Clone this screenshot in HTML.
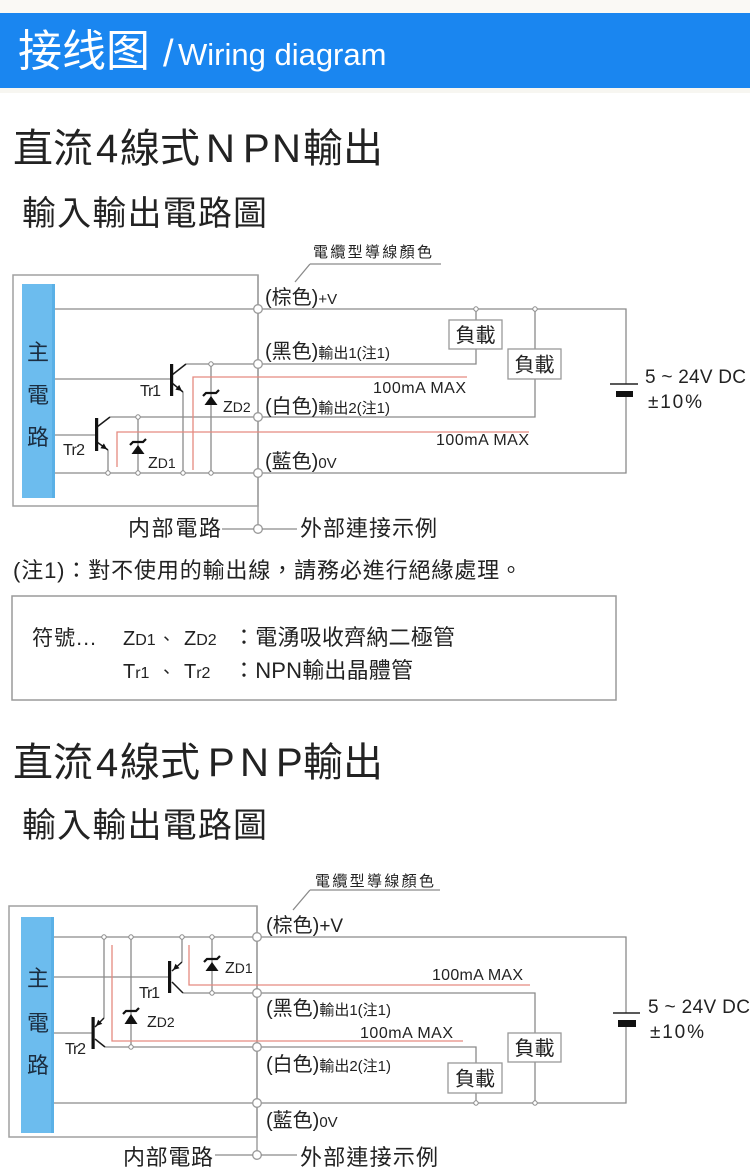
<!DOCTYPE html>
<html><head><meta charset="utf-8"><style>
html,body{margin:0;padding:0;background:#fff;}
body{width:750px;height:1171px;overflow:hidden;}
svg{display:block;}
text{font-family:"Liberation Sans","Noto Sans CJK TC",sans-serif;fill:#222;}
.w{fill:none;stroke:#8a8a8a;stroke-width:1.3;}
.bx{fill:none;stroke:#a0a0a0;stroke-width:1.5;}
.d{fill:none;stroke:#1a1a1a;stroke-width:1.5;}
.r{fill:none;stroke:#e58a80;stroke-width:1.3;}
.dot{fill:#fff;stroke:#8a8a8a;stroke-width:1;}
.big{fill:#fff;stroke:#999;stroke-width:1.3;}
.zb{fill:none;stroke:#111;stroke-width:2.2;}
.lb{fill:#fff;stroke:#999;stroke-width:1.3;}
</style></head><body>
<svg width="750" height="1171" viewBox="0 0 750 1171" xmlns="http://www.w3.org/2000/svg">
<rect x="0" y="0" width="750" height="13" fill="#faf9f5"/>
<rect x="0" y="13" width="750" height="75" fill="#1a86f0"/>
<rect x="0" y="88" width="750" height="5" fill="#f7f6f1"/>
<text x="18" y="66" font-size="44" style="fill:#fff;font-family:'Noto Sans CJK SC',sans-serif">接线图</text>
<text x="163" y="66" font-size="38" style="fill:#fff">/</text>
<text x="178" y="65" font-size="31" style="fill:#fff">Wiring diagram</text>

<!-- NPN heading -->
<text y="162" font-size="40"><tspan x="13">直流</tspan><tspan x="96">4</tspan><tspan x="120">線式</tspan><tspan x="206">N</tspan><tspan x="243">P</tspan><tspan x="272">N</tspan><tspan x="303">輸出</tspan></text>
<text x="22" y="225" font-size="34" textLength="245">輸入輸出電路圖</text>

<!-- NPN diagram -->
<rect class="bx" x="13" y="275" width="245" height="231"/>
<path class="bx" d="M258 275 V525"/>
<rect x="22" y="284" width="33" height="214" fill="#6cbcee"/>
<rect x="52" y="284" width="3" height="214" fill="#5ab0e6"/>
<text x="38" y="360" font-size="22" text-anchor="middle" style="fill:#1b2d40">主</text>
<text x="38" y="403" font-size="22" text-anchor="middle" style="fill:#1b2d40">電</text>
<text x="38" y="445" font-size="22" text-anchor="middle" style="fill:#1b2d40">路</text>

<path class="w" d="M55 309 H254 M262 309 H626 V384 M626 397 V473 H262 M254 473 H55"/>
<path class="w" d="M55 379 H171 M55 435 H96"/>
<path class="w" d="M186 364 H254 M262 364 H476 V349 M476 309 V320"/>
<path class="w" d="M110 417 H254 M262 417 H535 V379 M535 309 V349"/>
<path class="w" d="M183 392 V473 M108 450 V473 M211 364 V473 M138 417 V473"/>
<path class="d" d="M172 375 L186 364 M172 383 L183 392 M97 427 L110 417 M97 442 L108 450"/>
<rect x="170" y="364" width="3.2" height="32" fill="#111"/>
<rect x="95" y="418" width="3.2" height="33" fill="#111"/>
<polygon points="182,391 175.4,389.6 179.2,384.9" fill="#111"/>
<polygon points="107,449.3 100.4,448.2 103.9,443.4" fill="#111"/>
<path class="zb" d="M203 396 L206 393 H216 L219 390"/>
<polygon points="211,396 204.5,405 217.5,405" fill="#111"/>
<path class="zb" d="M130 445 L133 442 H143 L146 439"/>
<polygon points="138,445 131.5,454 144.5,454" fill="#111"/>
<path class="r" d="M193 470 V377 H467 M117 467 V432 H529"/>
<circle class="dot" cx="183" cy="473" r="2.2"/><circle class="dot" cx="211" cy="473" r="2.2"/>
<circle class="dot" cx="211" cy="364" r="2.2"/><circle class="dot" cx="108" cy="473" r="2.2"/>
<circle class="dot" cx="138" cy="473" r="2.2"/><circle class="dot" cx="138" cy="417" r="2.2"/>
<circle class="dot" cx="476" cy="309" r="2.2"/><circle class="dot" cx="535" cy="309" r="2.2"/>
<circle class="big" cx="258" cy="309" r="4.3"/><circle class="big" cx="258" cy="364" r="4.3"/>
<circle class="big" cx="258" cy="417" r="4.3"/><circle class="big" cx="258" cy="473" r="4.3"/>
<circle class="big" cx="258" cy="529" r="4.3"/>
<text x="140" y="396" font-size="16" textLength="21">Tr1</text>
<text x="63" y="455" font-size="16" textLength="22">Tr2</text>
<text x="223" y="412" font-size="16">Z<tspan font-size="14">D2</tspan></text>
<text x="148" y="468" font-size="16">Z<tspan font-size="14">D1</tspan></text>
<text x="373" y="393" font-size="16" textLength="93">100mA MAX</text>
<text x="436" y="445" font-size="16" textLength="93">100mA MAX</text>
<rect class="lb" x="449" y="320" width="53" height="29"/>
<text x="475.5" y="342" font-size="20" text-anchor="middle">負載</text>
<rect class="lb" x="508" y="349" width="53" height="30"/>
<text x="534.5" y="371.5" font-size="20" text-anchor="middle">負載</text>
<path d="M610 384 H638" stroke="#222" stroke-width="1.6"/>
<rect x="616" y="391" width="17" height="6" fill="#111"/>
<text x="645" y="383" font-size="19" textLength="101">5 ~ 24V DC</text>
<text x="648" y="408" font-size="19" textLength="54">±10%</text>
<text x="313" y="257" font-size="15" textLength="119">電纜型導線顏色</text>
<path class="w" d="M310 264 H441 M310 264 L295 282"/>
<text x="265" y="304" font-size="20">(棕色)<tspan font-size="15">+V</tspan></text>
<text x="265" y="358" font-size="20">(黑色)<tspan font-size="15">輸出1(注1)</tspan></text>
<text x="265" y="413" font-size="20">(白色)<tspan font-size="15">輸出2(注1)</tspan></text>
<text x="265" y="468" font-size="20">(藍色)<tspan font-size="15">0V</tspan></text>
<text x="128" y="536" font-size="22" textLength="93">内部電路</text>
<path class="w" d="M222 529 H254 M262 529 H297"/>
<text x="300" y="536" font-size="22" textLength="137">外部連接示例</text>

<text x="13" y="578" font-size="22" textLength="509">(注1)：對不使用的輸出線，請務必進行絕緣處理。</text>
<rect x="12" y="596" width="604" height="104" fill="none" stroke="#9a9a9a" stroke-width="1.5"/>
<text x="32" y="645" font-size="21" textLength="64">符號...</text>
<text x="123" y="645" font-size="20">Z<tspan font-size="16">D1</tspan></text>
<text x="158" y="645" font-size="17">、</text>
<text x="184" y="645" font-size="20">Z<tspan font-size="16">D2</tspan></text>
<text x="233" y="645" font-size="22" textLength="222">：電湧吸收齊納二極管</text>
<text x="123" y="678" font-size="20">T<tspan font-size="16">r1</tspan></text>
<text x="158" y="678" font-size="17">、</text>
<text x="184" y="678" font-size="20">T<tspan font-size="16">r2</tspan></text>
<text x="233" y="678" font-size="22" textLength="180">：NPN輸出晶體管</text>

<!-- PNP heading -->
<text y="776" font-size="40"><tspan x="13">直流</tspan><tspan x="96">4</tspan><tspan x="120">線式</tspan><tspan x="208">P</tspan><tspan x="240">N</tspan><tspan x="276">P</tspan><tspan x="303">輸出</tspan></text>
<text x="22" y="837" font-size="34" textLength="245">輸入輸出電路圖</text>

<!-- PNP diagram -->
<rect class="bx" x="9" y="906" width="248" height="231"/>
<path class="bx" d="M257 906 V1151"/>
<rect x="21" y="917" width="33" height="216" fill="#6cbcee"/>
<rect x="51" y="917" width="3" height="216" fill="#5ab0e6"/>
<text x="38" y="986" font-size="22" text-anchor="middle" style="fill:#1b2d40">主</text>
<text x="38" y="1031" font-size="22" text-anchor="middle" style="fill:#1b2d40">電</text>
<text x="38" y="1073" font-size="22" text-anchor="middle" style="fill:#1b2d40">路</text>

<path class="w" d="M54 937 H253 M261 937 H626 V1013 M626 1027 V1103 H261 M253 1103 H54"/>
<path class="w" d="M54 977 H169 M54 1033 H93"/>
<path class="w" d="M182 937 V962 M104 937 V1018 M212 937 V993 M131 937 V1047"/>
<path class="w" d="M183 993 H253 M261 993 H535 V1033 M535 1062 V1103"/>
<path class="w" d="M105 1047 H253 M261 1047 H476 V1063 M476 1093 V1103"/>
<path class="d" d="M182 962 L172 971 M172 982 L183 993 M104 1018 L95 1027 M95 1039 L105 1047"/>
<rect x="168" y="961" width="3.2" height="32" fill="#111"/>
<rect x="91.5" y="1017" width="3.2" height="32" fill="#111"/>
<polygon points="173,970 179.5,968.2 175.5,963.8" fill="#111"/>
<polygon points="96,1026 102.3,1023.9 98.1,1019.7" fill="#111"/>
<path class="zb" d="M204 962 L207 959 H217 L220 956"/>
<polygon points="212,962 205.5,971 218.5,971" fill="#111"/>
<path class="zb" d="M123 1014 L126 1011 H136 L139 1008"/>
<polygon points="131,1014 124.5,1024 137.5,1024" fill="#111"/>
<path class="r" d="M189 945 V985 H530 M112 945 V1041 H463"/>
<circle class="dot" cx="104" cy="937" r="2.2"/><circle class="dot" cx="131" cy="937" r="2.2"/>
<circle class="dot" cx="182" cy="937" r="2.2"/><circle class="dot" cx="212" cy="937" r="2.2"/>
<circle class="dot" cx="212" cy="993" r="2.2"/><circle class="dot" cx="131" cy="1047" r="2.2"/>
<circle class="dot" cx="476" cy="1103" r="2.2"/><circle class="dot" cx="535" cy="1103" r="2.2"/>
<circle class="big" cx="257" cy="937" r="4.3"/><circle class="big" cx="257" cy="993" r="4.3"/>
<circle class="big" cx="257" cy="1047" r="4.3"/><circle class="big" cx="257" cy="1103" r="4.3"/>
<circle class="big" cx="257" cy="1155" r="4.3"/>
<text x="139" y="998" font-size="16" textLength="21">Tr1</text>
<text x="65" y="1054" font-size="16" textLength="21">Tr2</text>
<text x="225" y="973" font-size="16">Z<tspan font-size="14">D1</tspan></text>
<text x="147" y="1027" font-size="16">Z<tspan font-size="14">D2</tspan></text>
<text x="432" y="980" font-size="16" textLength="91">100mA MAX</text>
<text x="360" y="1038" font-size="16" textLength="93">100mA MAX</text>
<rect class="lb" x="508" y="1033" width="53" height="29"/>
<text x="534.5" y="1055" font-size="20" text-anchor="middle">負載</text>
<rect class="lb" x="448" y="1063" width="54" height="30"/>
<text x="475" y="1085.5" font-size="20" text-anchor="middle">負載</text>
<path d="M613 1013 H640" stroke="#222" stroke-width="1.6"/>
<rect x="618" y="1020" width="18" height="7" fill="#111"/>
<text x="648" y="1013" font-size="19" textLength="102">5 ~ 24V DC</text>
<text x="650" y="1038" font-size="19" textLength="54">±10%</text>
<text x="315" y="886" font-size="15" textLength="119">電纜型導線顏色</text>
<path class="w" d="M310 890 H440 M310 890 L293 910"/>
<text x="266" y="932" font-size="20">(棕色)<tspan font-size="19">+V</tspan></text>
<text x="266" y="1015" font-size="20">(黑色)<tspan font-size="15">輸出1(注1)</tspan></text>
<text x="266" y="1071" font-size="20">(白色)<tspan font-size="15">輸出2(注1)</tspan></text>
<text x="266" y="1127" font-size="20">(藍色)<tspan font-size="15">0V</tspan></text>
<text x="123" y="1165" font-size="22" textLength="90">内部電路</text>
<path class="w" d="M215 1155 H253 M261 1155 H297"/>
<text x="300" y="1165" font-size="22" textLength="138">外部連接示例</text>
</svg>
</body></html>
